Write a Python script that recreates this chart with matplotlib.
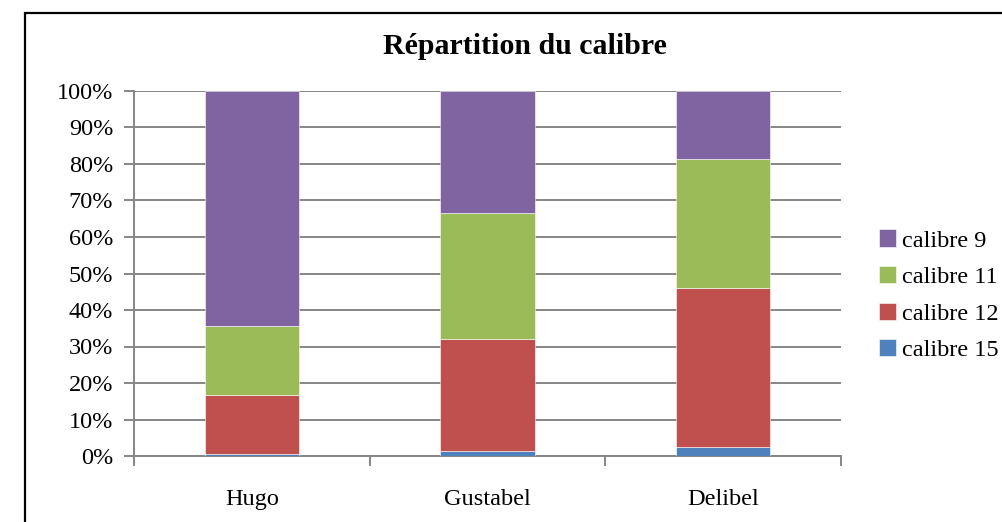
import matplotlib
matplotlib.use("Agg")
import matplotlib.pyplot as plt
from matplotlib.patches import Rectangle
from matplotlib.ticker import PercentFormatter, FixedLocator

categories = ["Hugo", "Gustabel", "Delibel"]
series_names = ["calibre 15", "calibre 12", "calibre 11", "calibre 9"]
calibre_15 = [0.5, 1.3, 2.5]
calibre_12 = [16.2, 30.7, 43.6]
calibre_11 = [18.9, 34.7, 35.3]
calibre_9 = [64.4, 33.3, 18.6]
colors = ["#4F81BD", "#C0504D", "#9BBB59", "#8064A2"]
yticks = list(range(0, 101, 10))

plt.rcParams['font.family'] = ['Liberation Serif', 'DejaVu Serif']

fig = plt.figure(figsize=(10.02, 5.22), dpi=100)
ax = fig.add_axes([134/1002, 66/522, 707/1002, 365/522])

# outer chart frame
fig.patches.append(Rectangle((24.5/1002, -0.1), 1.2, (522-12.7)/522 + 0.1,
                             transform=fig.transFigure, fill=False,
                             edgecolor="black", linewidth=1.6))

x = list(range(len(categories)))
bottom = [0.0] * len(categories)
handles = []
for name, vals, col in zip(series_names, [calibre_15, calibre_12, calibre_11, calibre_9], colors):
    b = ax.bar(x, vals, width=0.40, bottom=bottom, color=col, label=name,
               edgecolor="white", linewidth=0.4, zorder=3)
    handles.append(b)
    bottom = [bt + v for bt, v in zip(bottom, vals)]

ax.set_xlim(-0.5, 2.5)
ax.set_ylim(0, 100)
ax.set_yticks(yticks)
ax.yaxis.set_major_formatter(PercentFormatter(decimals=0))
ax.grid(axis="y", color="#868686", linewidth=1.4, zorder=0)
ax.set_axisbelow(True)

ax.set_xticks(x)
ax.set_xticklabels(categories, fontsize=17.5)
ax.xaxis.set_minor_locator(FixedLocator([-0.5, 0.5, 1.5, 2.5]))
ax.tick_params(axis="x", which="major", length=0, pad=24)
ax.tick_params(axis="x", which="minor", length=7, width=1.4, color="#868686")
ax.tick_params(axis="y", length=7, width=1.4, color="#868686", labelsize=17.5, pad=8)

for s in ["top", "right"]:
    ax.spines[s].set_visible(False)
for s in ["left", "bottom"]:
    ax.spines[s].set_color("#868686")
    ax.spines[s].set_linewidth(1.4)

fig.text(525/1002, (522-46)/522, "Répartition du calibre", fontsize=21.5,
         fontweight="bold", ha="center", va="center")

leg = ax.legend(handles=handles[::-1], labels=series_names[::-1],
                loc="center left", frameon=False,
                borderpad=0, borderaxespad=0,
                fontsize=17.5, handlelength=0.7, handleheight=0.7,
                handletextpad=0.25, labelspacing=0.6)
leg.set_bbox_to_anchor((1.054, 0.44), transform=ax.transAxes)

fig.savefig("out.png", dpi=100)
